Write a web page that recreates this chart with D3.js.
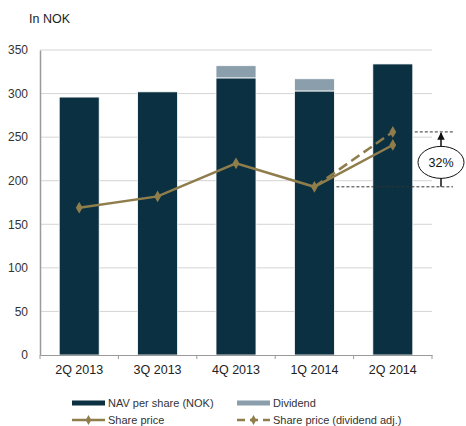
<!DOCTYPE html>
<html>
<head>
<meta charset="utf-8">
<script src="https://cdn.jsdelivr.net/npm/d3@7"></script>
<style>
  body { margin: 0; background: white; }
  text { font-family: "Liberation Sans", Arial, sans-serif; }
</style>
</head>
<body>
<svg id="chart" width="466" height="426"></svg>
<script>
// chart values
let quarters = ['2Q 2013', '3Q 2013', '4Q 2013', '1Q 2014', '2Q 2014'];
let navPerShare = [296, 302, 318, 303, 334];
let dividend = [0, 0, 14, 14, 0];
let sharePrice = [169, 182, 220, 193, 241];
let sharePriceAdj = [null, null, null, 193, 256];
let yTicks = [0, 50, 100, 150, 200, 250, 300, 350];
let gainLabel = '32%';

let navColor = '#0b3041';
let divColor = '#8a9eac';
let lineColor = '#8f7d4c';

let svg = d3.select('#chart');
let margin = {top: 50, right: 34, bottom: 71, left: 40};
let width = 466 - margin.left - margin.right;
let height = 426 - margin.top - margin.bottom;

let x = d3.scaleBand().domain(quarters).range([0, width]).paddingInner(0.49).paddingOuter(0.245);
let y = d3.scaleLinear().domain([0, 350]).range([height, 0]);

let g = svg.append('g').attr('transform', `translate(${margin.left},${margin.top})`);

// unit label
svg.append('text').attr('x', 29).attr('y', 23).attr('font-size', 12.5).attr('fill', '#222').text('In NOK');

// gridlines
g.selectAll('.grid').data(yTicks.slice(1)).enter().append('line')
    .attr('x1', 0).attr('x2', width)
    .attr('y1', (d) => y(d)).attr('y2', (d) => y(d))
    .attr('stroke', '#d4d4d4').attr('stroke-width', 1);

// y axis
let yAxis = g.append('g').call(d3.axisLeft(y).tickValues(yTicks).tickSize(0).tickPadding(12));
yAxis.select('.domain').attr('stroke', '#9a9a9a').attr('stroke-width', 1.5);
yAxis.selectAll('text').attr('font-size', 12).attr('fill', '#333');

// stacked bars
g.selectAll('.nav').data(quarters).enter().append('rect')
    .attr('x', (d) => x(d)).attr('width', x.bandwidth())
    .attr('y', (d, i) => y(navPerShare[i])).attr('height', (d, i) => y(0) - y(navPerShare[i]))
    .attr('fill', navColor).attr('stroke', 'white').attr('stroke-width', 0.8);
g.selectAll('.div').data(quarters.filter((d, i) => dividend[i] > 0)).enter().append('rect')
    .attr('x', (d) => x(d)).attr('width', x.bandwidth())
    .attr('y', (d) => y(navPerShare[quarters.indexOf(d)] + dividend[quarters.indexOf(d)]))
    .attr('height', (d) => y(0) - y(dividend[quarters.indexOf(d)]))
    .attr('fill', divColor).attr('stroke', 'white').attr('stroke-width', 0.8);

// x axis
let xAxisG = g.append('g').attr('transform', `translate(0,${height})`)
    .call(d3.axisBottom(x).tickSize(0).tickPadding(10));
xAxisG.select('.domain').attr('stroke', '#9a9a9a').attr('stroke-width', 1);
xAxisG.selectAll('text').attr('font-size', 12.5).attr('fill', '#222');
let step = x.step();
g.selectAll('.xtick').data(d3.range(quarters.length + 1)).enter().append('line')
    .attr('x1', (d) => d * step).attr('x2', (d) => d * step)
    .attr('y1', height).attr('y2', height + 4)
    .attr('stroke', '#9a9a9a');

let cx = (d) => x(d) + x.bandwidth() / 2;
let diamond = d3.symbol().type(d3.symbolDiamond).size(40);

// dividend adjusted share price (dashed)
let adjPts = quarters.map((q, i) => [q, sharePriceAdj[i]]).filter((p) => p[1] !== null);
g.append('path').datum(adjPts)
    .attr('d', d3.line().x((p) => cx(p[0])).y((p) => y(p[1])))
    .attr('fill', 'none').attr('stroke', lineColor).attr('stroke-width', 2.5)
    .attr('stroke-dasharray', '10,5');
g.selectAll('.adjpt').data(adjPts.slice(1)).enter().append('path')
    .attr('d', diamond).attr('transform', (p) => `translate(${cx(p[0])},${y(p[1])})`)
    .attr('fill', lineColor);

// share price line
g.append('path').datum(quarters)
    .attr('d', d3.line().x(cx).y((d, i) => y(sharePrice[i])))
    .attr('fill', 'none').attr('stroke', lineColor).attr('stroke-width', 2.5);
g.selectAll('.pt').data(quarters).enter().append('path')
    .attr('d', diamond).attr('transform', (d, i) => `translate(${cx(d)},${y(sharePrice[i])})`)
    .attr('fill', lineColor);

// gain annotation between 1Q 2014 price and adjusted 2Q 2014 price
let lowY = y(sharePrice[3]);
let highY = y(sharePriceAdj[4]);
let annX = width + 9;
g.append('line').attr('x1', cx(quarters[3]) + 22).attr('x2', annX + 12)
    .attr('y1', lowY).attr('y2', lowY)
    .attr('stroke', '#333').attr('stroke-dasharray', '3,2');
g.append('line').attr('x1', cx(quarters[4]) + 22).attr('x2', annX + 12)
    .attr('y1', highY).attr('y2', highY)
    .attr('stroke', '#333').attr('stroke-dasharray', '3,2');
svg.append('defs').append('marker').attr('id', 'arrow')
    .attr('viewBox', '0 0 10 10').attr('refX', 9).attr('refY', 5)
    .attr('markerWidth', 5).attr('markerHeight', 5).attr('orient', 'auto')
    .append('path').attr('d', 'M0,0L10,5L0,10z').attr('fill', '#111');
g.append('line').attr('x1', annX).attr('x2', annX)
    .attr('y1', lowY).attr('y2', highY + 1)
    .attr('stroke', '#111').attr('stroke-width', 1.5).attr('marker-end', 'url(#arrow)');
let midY = (lowY + highY) / 2 + 3;
g.append('ellipse').attr('cx', annX).attr('cy', midY).attr('rx', 23).attr('ry', 16)
    .attr('fill', 'white').attr('stroke', '#111').attr('stroke-width', 1);
g.append('text').attr('x', annX).attr('y', midY + 4.5).attr('text-anchor', 'middle')
    .attr('font-size', 12.5).attr('fill', '#111').text(gainLabel);

// legend
let legendItems = [
  {label: 'NAV per share (NOK)', type: 'bar', color: navColor, col: 0, row: 0},
  {label: 'Dividend', type: 'bar', color: divColor, col: 1, row: 0},
  {label: 'Share price', type: 'line', color: lineColor, col: 0, row: 1},
  {label: 'Share price (dividend adj.)', type: 'dash', color: lineColor, col: 1, row: 1},
];
let legend = svg.append('g').attr('transform', 'translate(72,403)');
legendItems.forEach((item) => {
  let lg = legend.append('g').attr('transform', `translate(${item.col * 165},${item.row * 17})`);
  if (item.type === 'bar') {
    lg.append('rect').attr('x', 0).attr('y', -2.5).attr('width', 33).attr('height', 5).attr('fill', item.color);
  } else {
    lg.append('line').attr('x1', 0).attr('x2', 33).attr('y1', 0).attr('y2', 0)
        .attr('stroke', item.color).attr('stroke-width', 2.5)
        .attr('stroke-dasharray', item.type === 'dash' ? '8,5' : null);
    lg.append('path').attr('d', d3.symbol().type(d3.symbolDiamond).size(28))
        .attr('transform', 'translate(16.5,0)').attr('fill', item.color);
  }
  lg.append('text').attr('x', 36).attr('y', 4).attr('font-size', 11).attr('fill', '#333').text(item.label);
});
</script>
</body>
</html>
